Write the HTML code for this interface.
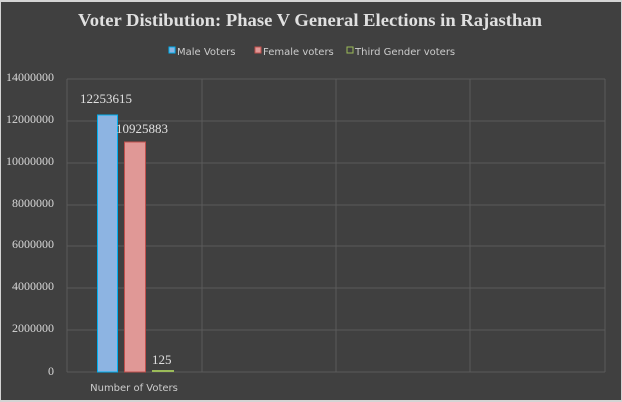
<!DOCTYPE html>
<html><head><style>
body{margin:0;width:622px;height:402px;background:#c8c8c8;overflow:hidden}
svg{display:block}
</style></head><body>
<svg width="622" height="402" xmlns="http://www.w3.org/2000/svg">
<rect x="0" y="0" width="622" height="402" fill="#d4d4d4"/>
<rect x="1" y="2" width="620" height="398" fill="#404040"/>
<text x="78" y="26" textLength="464" lengthAdjust="spacingAndGlyphs" font-family="Liberation Serif" font-weight="bold" font-size="18" fill="#e0e0e0">Voter Distibution: Phase V General Elections in  Rajasthan</text>
<g font-family="DejaVu Sans" font-size="10" fill="#cccccc">
<rect x="169" y="47" width="6" height="6" fill="#8db4e2" stroke="#00b0f0"/><text x="177" y="55">Male Voters</text>
<rect x="255" y="47" width="6" height="6" fill="#e09896" stroke="#c0504d"/><text x="263" y="55">Female voters</text>
<rect x="347" y="47" width="6" height="6" fill="#404040" stroke="#9bbb59"/><text x="355" y="55">Third Gender voters</text>
</g>
<g stroke="#5a5a5a" stroke-width="1">
<line x1="67" y1="79" x2="605" y2="79"/><line x1="67" y1="121" x2="605" y2="121"/>
<line x1="67" y1="163" x2="605" y2="163"/><line x1="67" y1="205" x2="605" y2="205"/>
<line x1="67" y1="246" x2="605" y2="246"/><line x1="67" y1="288" x2="605" y2="288"/>
<line x1="67" y1="330" x2="605" y2="330"/><line x1="67" y1="372" x2="605" y2="372"/>
<line x1="67" y1="79" x2="67" y2="372"/><line x1="202" y1="79" x2="202" y2="372"/>
<line x1="336" y1="79" x2="336" y2="372"/><line x1="470" y1="79" x2="470" y2="372"/>
<line x1="605" y1="79" x2="605" y2="372"/>
</g>
<g font-family="Liberation Serif" font-size="12" fill="#d8d8d8" text-anchor="end">
<text x="54" y="81">14000000</text><text x="54" y="123">12000000</text>
<text x="54" y="165">10000000</text><text x="54" y="207">8000000</text>
<text x="54" y="248">6000000</text><text x="54" y="290">4000000</text>
<text x="54" y="332">2000000</text><text x="54" y="375">0</text>
</g>
<rect x="97.5" y="115" width="20" height="257" fill="#8db4e2" stroke="#00b0f0"/>
<rect x="124.5" y="142" width="21" height="230" fill="#e09896" stroke="#c0504d"/>
<rect x="152" y="370" width="22" height="2" fill="#9bbb59"/>
<g font-family="Liberation Serif" font-size="13" fill="#e0e0e0">
<text x="80" y="103">12253615</text>
<text x="116" y="133">10925883</text>
<text x="152" y="364">125</text>
</g>
<text x="134" y="391" text-anchor="middle" font-family="DejaVu Sans" font-size="10" fill="#cccccc">Number of Voters</text>
</svg>
</body></html>
